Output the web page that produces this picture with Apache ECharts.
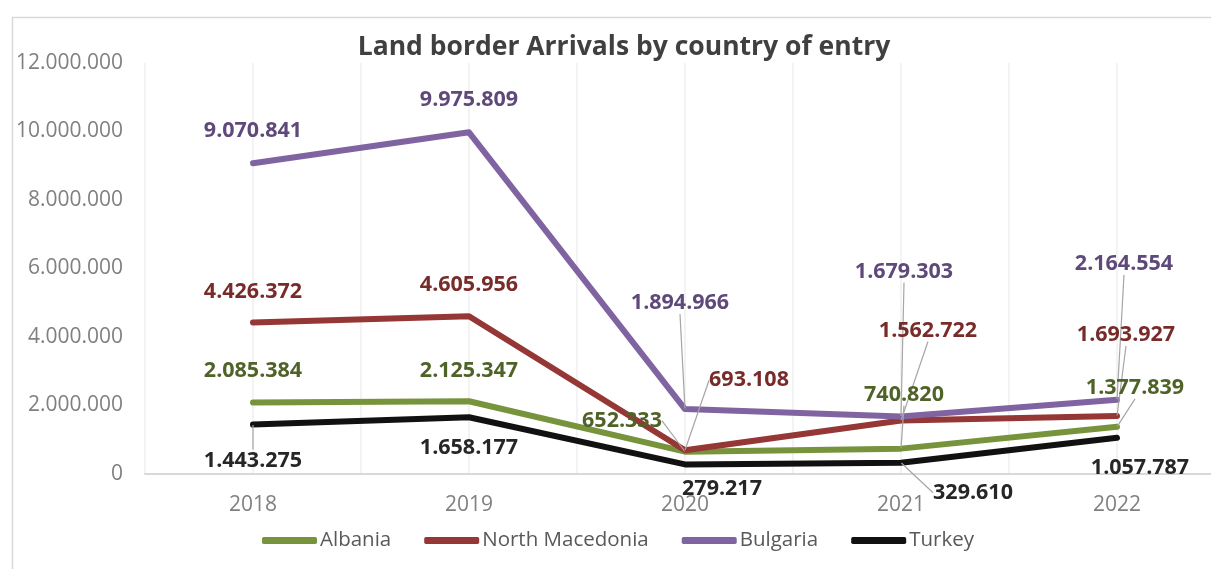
<!DOCTYPE html>
<html><head><meta charset="utf-8">
<script src="https://cdn.jsdelivr.net/npm/echarts@6/dist/echarts.min.js"></script>
<style>html,body{margin:0;padding:0;background:#fff}#c{width:1211px;height:569px}</style>
</head><body><div id="c"></div>
<script>
const categories = ['2018', '2019', '2020', '2021', '2022'];
const albania = [2085384, 2125347, 652333, 740820, 1377839];
const northMacedonia = [4426372, 4605956, 693108, 1562722, 1693927];
const bulgaria = [9070841, 9975809, 1894966, 1679303, 2164554];
const turkey = [1443275, 1658177, 279217, 329610, 1057787];

// label offsets (styling) relative to the point, and whether a leader line is drawn
const offsets = {
  'Albania': [[0,-32],[0,-30],[-63,-31],[3,-54],[18,-39]],
  'North Macedonia': [[0,-31],[0,-31],[64,-70],[27,-90],[9,-81]],
  'Bulgaria': [[0,-32],[0,-32],[-5,-106],[3,-145],[7,-136]],
  'Turkey': [[0,36],[0,31],[37,24],[72,30],[23,30]]
};
const leaders = {
  'Albania': [0,0,1,1,1],
  'North Macedonia': [0,0,1,1,1],
  'Bulgaria': [0,0,1,1,1],
  'Turkey': [1,0,0,1,0]
};

function fmt(v){ return String(v).replace(/\B(?=(\d{3})+(?!\d))/g, '.'); }

const FONT = '"Open Sans", sans-serif';

function mk(name, vals, color, labelColor){
  return {
    name: name,
    type: 'line',
    xAxisIndex: 0,
    data: vals.map((v,i)=>({value:v, labelLine:{show: !!leaders[name][i]}})),
    symbol: 'circle',
    symbolSize: 1,
    showSymbol: true,
    lineStyle: {color: color, width: 6, cap: 'round', join: 'round'},
    itemStyle: {color: color},
    emphasis: {disabled: true},
    label: {
      show: true, position: 'inside',
      color: labelColor, fontFamily: FONT, fontWeight: 'bold', fontSize: 21.5,
      formatter: p => fmt(p.value)
    },
    labelLine: {show: false, lineStyle: {color: '#a6a6a6', width: 1.2}},
    labelLayout: function(p){
      const o = offsets[name][p.dataIndex];
      return {dx: o[0], dy: o[1]};
    },
    z: 3
  };
}

const chart = echarts.init(document.getElementById('c'), null, {renderer: 'canvas'});
chart.setOption({
  animation: false,
  backgroundColor: '#fff',
  title: {
    text: 'Land border Arrivals by country of entry',
    left: 619, top: 29, textAlign: 'center',
    textStyle: {fontFamily: FONT, fontWeight: 'bold', fontSize: 26.5, color: '#404040'}
  },
  graphic: [{
    type: 'rect', left: 10, top: 15, z: -1, silent: true,
    shape: {width: 1400, height: 700},
    style: {fill: 'none', stroke: '#d9d9d9', lineWidth: 1.5}
  }],
  grid: {left: 145, width: 1080, top: 63, bottom: 95, containLabel: false, outerBoundsMode: 'none'},
  xAxis: [{
    type: 'category', data: categories, boundaryGap: true,
    axisLine: {show: true, lineStyle: {color: '#d9d9d9', width: 2}},
    axisTick: {show: false},
    splitLine: {show: false},
    axisLabel: {color: '#808080', fontFamily: FONT, fontSize: 21, margin: 21}
  }, {
    type: 'value', min: 0, max: 10, interval: 1, position: 'bottom',
    axisLine: {show: false}, axisTick: {show: false}, axisLabel: {show: false},
    splitLine: {show: true, lineStyle: {color: '#efefef', width: 1.5}}
  }],
  yAxis: {
    type: 'value', min: 0, max: 12000000, interval: 2000000,
    axisLine: {show: false}, axisTick: {show: false},
    splitLine: {show: false},
    axisLabel: {color: '#808080', fontFamily: FONT, fontSize: 21, margin: 22, formatter: v => fmt(v)}
  },
  legend: {
    bottom: 18, left: 262, padding: 0,
    itemWidth: 55, itemHeight: 7, itemGap: 33,
    icon: 'roundRect',
    textStyle: {color: '#595959', fontFamily: FONT, fontSize: 20.5, padding: [0,0,0,-2]},
    data: ['Albania', 'North Macedonia', 'Bulgaria', 'Turkey']
  },
  series: [
    mk('Albania', albania, '#77933C', '#4F6228'),
    mk('North Macedonia', northMacedonia, '#953735', '#772C2A'),
    mk('Bulgaria', bulgaria, '#8064A2', '#5F497A'),
    mk('Turkey', turkey, '#111111', '#262626')
  ]
});
</script>
</body></html>
